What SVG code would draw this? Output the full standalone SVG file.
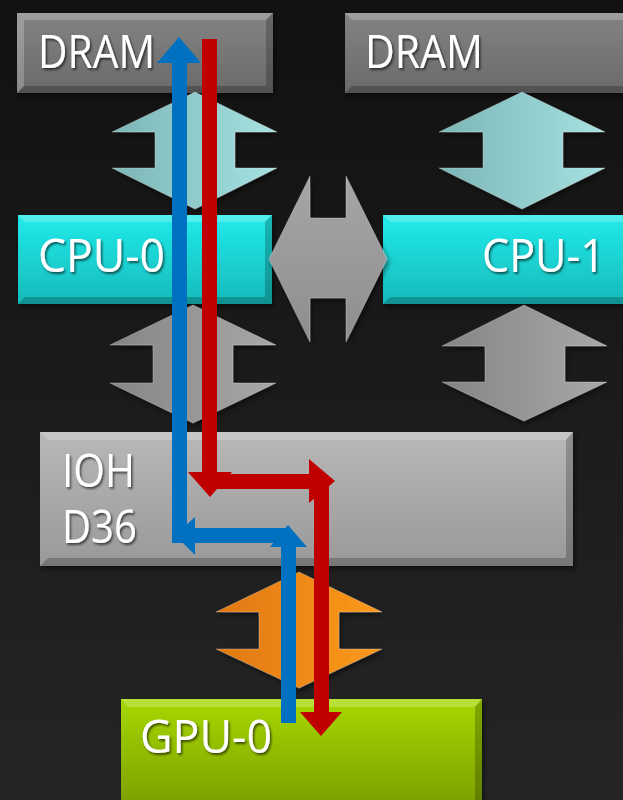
<svg xmlns="http://www.w3.org/2000/svg" width="623" height="800" viewBox="0 0 623 800">
<defs>
<linearGradient id="bg" x1="0" y1="0" x2="0" y2="1"><stop offset="0" stop-color="#111111"/><stop offset="1" stop-color="#252525"/></linearGradient>
<linearGradient id="gDram" x1="0" y1="0" x2="0" y2="1"><stop offset="0" stop-color="#838383"/><stop offset="1" stop-color="#6a6a6a"/></linearGradient>
<linearGradient id="gCpu" x1="0" y1="0" x2="0" y2="1"><stop offset="0" stop-color="#22eaea"/><stop offset="1" stop-color="#16baba"/></linearGradient>
<linearGradient id="gIoh" x1="0" y1="0" x2="0" y2="1"><stop offset="0" stop-color="#b8b8b8"/><stop offset="1" stop-color="#999999"/></linearGradient>
<linearGradient id="gGpu" x1="0" y1="0" x2="0" y2="1"><stop offset="0" stop-color="#a6d800"/><stop offset="1" stop-color="#7a9e00"/></linearGradient>
<linearGradient id="gCyanC" x1="0" y1="0" x2="1" y2="0"><stop offset="0" stop-color="#7cb5b5"/><stop offset="1" stop-color="#a6e2e2"/></linearGradient>
<linearGradient id="gGrayC" x1="0" y1="0" x2="1" y2="0"><stop offset="0" stop-color="#858585"/><stop offset="1" stop-color="#a8a8a8"/></linearGradient>
<linearGradient id="gGrayV" x1="0" y1="0" x2="0" y2="1"><stop offset="0" stop-color="#a6a6a6"/><stop offset="1" stop-color="#8e8e8e"/></linearGradient>
<linearGradient id="gOrange" x1="0" y1="0" x2="1" y2="0"><stop offset="0" stop-color="#e07810"/><stop offset="1" stop-color="#fb9a1c"/></linearGradient>
<filter id="tsh" x="-10%" y="-10%" width="130%" height="140%"><feDropShadow dx="1.5" dy="2" stdDeviation="1.2" flood-color="#000" flood-opacity="0.6"/></filter>
<filter id="bsh" x="-10%" y="-10%" width="130%" height="130%"><feDropShadow dx="2" dy="3" stdDeviation="2.5" flood-color="#000" flood-opacity="0.5"/></filter>
</defs>
<style>
.lbl{font-family:"Open Sans","DejaVu Sans",sans-serif;font-size:46px;fill:#ffffff;filter:url(#tsh)}
.hi{fill:#ffffff;opacity:0.22}
.lo{fill:#000000;opacity:0.22}
.conn{stroke:#ffffff;stroke-opacity:0.25;stroke-width:1;filter:url(#bsh)}
.blue{fill:#0070c0}
.red{fill:#c00000}
</style>
<rect x="0" y="0" width="623" height="800" fill="url(#bg)"/>

<g id="dram0">
<rect x="17" y="13" width="256" height="80" fill="url(#gDram)" filter="url(#bsh)"/>
<polygon class="hi" points="17,13 273,13 266,20 24,20"/>
<polygon class="hi" points="17,13 24,20 24,86 17,93" opacity="0.1"/>
<polygon class="lo" points="273,13 273,93 266,86 266,20"/>
<polygon class="lo" points="17,93 273,93 266,86 24,86"/>
<text class="lbl" x="38" y="68" textLength="117" lengthAdjust="spacingAndGlyphs">DRAM</text>
</g>
<g id="dram1">
<rect x="345" y="13" width="290" height="80" fill="url(#gDram)" filter="url(#bsh)"/>
<polygon class="hi" points="345,13 635,13 628,20 352,20"/>
<polygon class="lo" points="345,93 635,93 628,86 352,86"/>
<text class="lbl" x="365" y="68" textLength="118" lengthAdjust="spacingAndGlyphs">DRAM</text>
</g>
<g id="cpu0">
<rect x="18" y="215" width="254" height="89" fill="url(#gCpu)" filter="url(#bsh)"/>
<polygon class="hi" points="18,215 272,215 265,222 25,222"/>
<polygon class="lo" points="272,215 272,304 265,297 265,222"/>
<polygon class="lo" points="18,304 272,304 265,297 25,297"/>
<text class="lbl" x="38" y="272" textLength="127" lengthAdjust="spacingAndGlyphs">CPU-0</text>
</g>
<g id="cpu1">
<rect x="383" y="215" width="252" height="89" fill="url(#gCpu)" filter="url(#bsh)"/>
<polygon class="hi" points="383,215 635,215 628,222 390,222"/>
<polygon class="lo" points="383,304 635,304 628,297 390,297"/>
<text class="lbl" x="482" y="272" textLength="123" lengthAdjust="spacingAndGlyphs">CPU-1</text>
</g>
<g id="ioh">
<rect x="40" y="432" width="533" height="134" fill="url(#gIoh)" filter="url(#bsh)"/>
<polygon class="hi" points="40,432 573,432 566,440 48,440" opacity="0.45"/>
<polygon class="lo" points="573,432 573,566 566,558 566,440"/>
<polygon class="lo" points="40,566 573,566 566,558 48,558"/>
<text class="lbl" x="62" y="487" textLength="73" lengthAdjust="spacingAndGlyphs">IOH</text>
<text class="lbl" x="62" y="543" textLength="75" lengthAdjust="spacingAndGlyphs">D36</text>
</g>
<g id="gpu0">
<rect x="121" y="699" width="361" height="110" fill="url(#gGpu)" filter="url(#bsh)"/>
<polygon class="hi" points="121,699 482,699 475,707 128,707" opacity="0.35"/>
<polygon class="lo" points="482,699 482,810 475,810 475,707"/>
<text class="lbl" x="140" y="753" textLength="132" lengthAdjust="spacingAndGlyphs">GPU-0</text>
</g>

<g id="link-dram0-cpu0"><polygon class="conn" fill="url(#gCyanC)" points="195,92 277,132 235,132 235,168 277,168 195,209 112,168 155,168 155,132 112,132"/></g>
<g id="link-dram1-cpu1"><polygon class="conn" fill="url(#gCyanC)" points="522,92 605,132 563,132 563,168 605,168 522,209 439,168 483,168 483,132 439,132"/></g>
<g id="link-cpu0-ioh"><polygon class="conn" fill="url(#gGrayC)" points="193,305 276,345 233,345 233,383 276,383 193,423 110,383 153,383 153,345 110,345"/></g>
<g id="link-cpu1-ioh"><polygon class="conn" fill="url(#gGrayC)" points="524,305 607,346 565,346 565,382 607,382 524,421 442,382 485,382 485,346 442,346"/></g>
<g id="link-cpu0-cpu1"><polygon class="conn" fill="url(#gGrayV)" points="269,259 310,176 310,218 346,218 346,176 387,259 346,342 346,298 310,298 310,342"/></g>
<g id="link-ioh-gpu0"><polygon class="conn" fill="url(#gOrange)" points="299,572 382,612 339,612 339,649 382,649 299,688 216,649 259,649 259,612 216,612"/></g>

<g id="connectors">
<g id="red-path">
<rect class="red" x="202" y="39" width="15" height="435"/>
<polygon class="red" points="188,472 232,472 210,497"/>
<rect class="red" x="203" y="474" width="108" height="15"/>
<polygon class="red" points="309,459 335,481 309,503"/>
<rect class="red" x="314" y="481" width="15" height="233"/>
<polygon class="red" points="300,712 342,712 321,736"/>
</g>
<g id="blue-path">
<rect class="blue" x="281" y="545" width="15" height="178"/>
<polygon class="blue" points="270,547 307,547 288,525"/>
<rect class="blue" x="193" y="528" width="95" height="15"/>
<polygon class="blue" points="195,517 175,535 195,555"/>
<rect class="blue" x="172" y="61" width="15" height="482"/>
<polygon class="blue" points="157,63 201,63 179,37"/>
</g>
</g>
</svg>
